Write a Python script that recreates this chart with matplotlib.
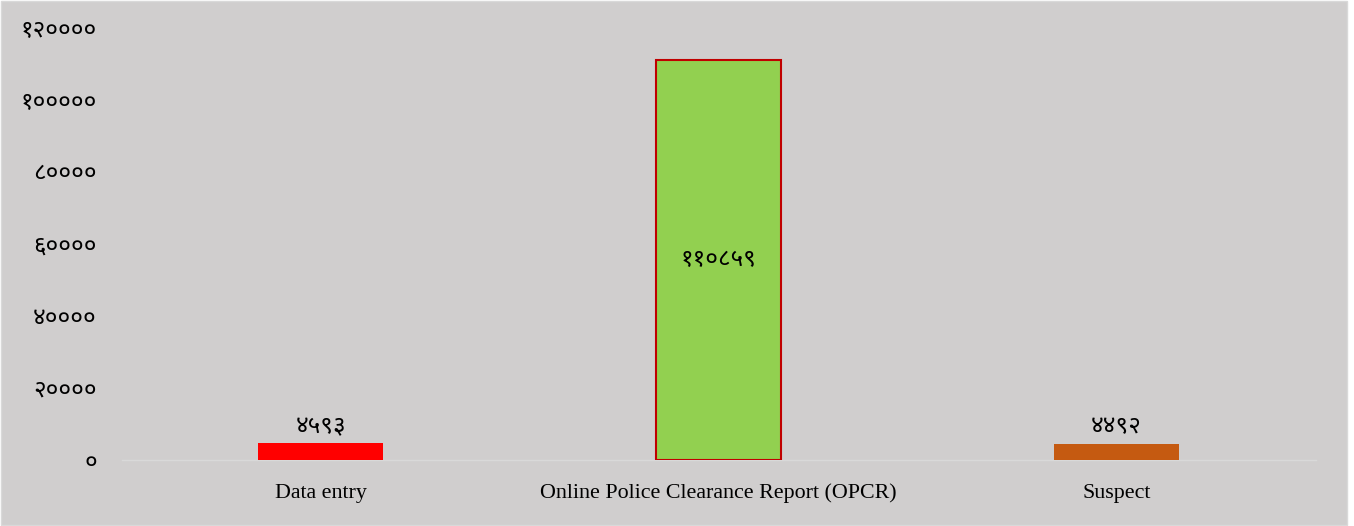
# bar chart of record counts by type, Devanagari numerals

import matplotlib
matplotlib.use("Agg")
import matplotlib.pyplot as plt
from matplotlib.patches import Rectangle

# data
categories = ["Data entry", "Online Police Clearance Report (OPCR)", "Suspect"]
values = [4593, 110859, 4492]
bar_colors = ["#ff0000", "#92d050", "#c55a11"]
edge_colors = ["#ff0000", "#c00000", "#c55a11"]
y_ticks = [0, 20000, 40000, 60000, 80000, 100000, 120000]

deva_digits = str.maketrans("0123456789", "०१२३४५६७८९")
def to_deva(n):
    return str(n).translate(deva_digits)

num_font = ["Noto Sans Devanagari", "Noto Sans", "DejaVu Sans"]
cat_font = ["Liberation Serif", "DejaVu Serif"]
bg = "#d0cece"

fig = plt.figure(figsize=(13.54, 5.26), dpi=100, facecolor="white")
# chart area background with thin border
fig.patches.append(Rectangle((0.0007, 0.001), 0.9941, 0.997, transform=fig.transFigure,
                             facecolor=bg, edgecolor="#d9d9d9", linewidth=1.0, zorder=-10))

ax = fig.add_axes([0.0901, 0.1255, 0.8815, 0.8232])
ax.patch.set_visible(False)

x = range(len(categories))
bars = ax.bar(x, values, width=0.314, color=bar_colors, edgecolor=edge_colors,
              linewidth=[0, 1.5, 0], zorder=3)

ax.set_xlim(-0.5, 2.5)
ax.set_ylim(0, 120000)
ax.set_yticks(y_ticks)
ax.set_yticklabels([to_deva(t) for t in y_ticks], family=num_font, fontsize=17.5)
ax.set_xticks(list(x))
ax.set_xticklabels(categories, family=cat_font, fontsize=15.8)
ax.tick_params(axis="y", length=0, pad=18)
ax.tick_params(axis="x", length=0, pad=17)

for s in ["top", "right", "left"]:
    ax.spines[s].set_visible(False)
ax.spines["bottom"].set_color("#d9d9d9")
ax.spines["bottom"].set_linewidth(1.0)

# value labels
for i, v in enumerate(values):
    if v > 50000:
        ax.text(i, v / 2, to_deva(v), ha="center", va="center",
                family=num_font, fontsize=17.5, zorder=4)
    else:
        ax.annotate(to_deva(v), (i, v), xytext=(0, 3), textcoords="offset points",
                    ha="center", va="bottom", family=num_font, fontsize=17.5, zorder=4)

fig.savefig("out.png", facecolor=fig.get_facecolor())
